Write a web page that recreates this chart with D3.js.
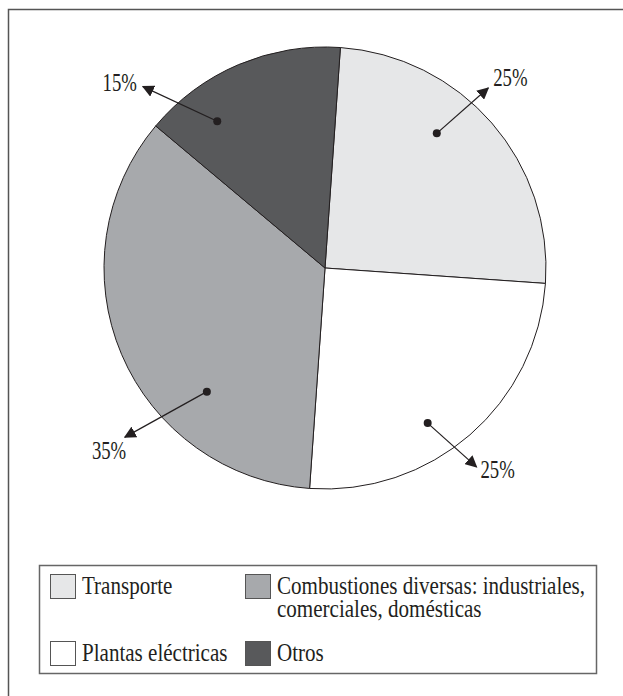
<!DOCTYPE html>
<html>
<head>
<meta charset="utf-8">
<script src="https://cdn.jsdelivr.net/npm/d3@7"></script>
<style>
  body { margin: 0; background: #fff; }
  text { font-family: "Liberation Serif", "DejaVu Serif", serif; fill: #231f20; }
</style>
</head>
<body>
<div id="chart"></div>
<script>
// datos del gráfico
var categories = ["Transporte", "Plantas eléctricas", "Combustiones diversas: industriales, comerciales, domésticas", "Otros"];
var values = [25, 25, 35, 15];
var colors = ["#e6e7e8", "#ffffff", "#a7a9ac", "#58595b"];
var pctLabels = ["25%", "25%", "35%", "15%"];

// leyenda: orden y lineas de texto
var legendOrder = [0, 2, 1, 3];
var legendLines = [["Transporte"], ["Plantas eléctricas"], ["Combustiones diversas: industriales,", "comerciales, domésticas"], ["Otros"]];

var width = 623, height = 696;
var cx = 325, cy = 268, radius = 221;
var deg = Math.PI / 180;

// posicion de los puntos y flechas (angulo, radio)
var callout = [
  {dot: [39.7, 175], tip: [42.2, 243], dx: 5, dy: -2, anchor: "start"},
  {dot: [146.5, 186], tip: [142.7, 250], dx: 4, dy: 11, anchor: "start"},
  {dot: [223.7, 171], tip: [229.8, 262], dx: -33, dy: 22, anchor: "start"},
  {dot: [323.7, 182], tip: [314.9, 257], dx: -6, dy: 4, anchor: "end"}
];

var svg = d3.select("#chart").append("svg")
    .attr("width", width)
    .attr("height", height);

// marco exterior
svg.append("rect")
    .attr("x", 8.5).attr("y", 9.5)
    .attr("width", width + 20).attr("height", height + 20)
    .attr("fill", "none")
    .attr("stroke", "#555")
    .attr("stroke-width", 1.5);

svg.append("defs").append("marker")
    .attr("id", "arrow")
    .attr("viewBox", "0 0 10 10")
    .attr("refX", 9).attr("refY", 5)
    .attr("markerWidth", 12).attr("markerHeight", 12)
    .attr("markerUnits", "userSpaceOnUse")
    .attr("orient", "auto")
  .append("path")
    .attr("d", "M0,0 L10,5 L0,10 Z")
    .attr("fill", "#231f20");

var pie = d3.pie()
    .sort(null)
    .startAngle(4 * deg)
    .endAngle(364 * deg);

var arc = d3.arc().innerRadius(0).outerRadius(radius);

var g = svg.append("g")
    .attr("transform", "translate(" + cx + "," + cy + ")");

g.selectAll(".slice")
    .data(pie(values))
  .enter().append("path")
    .attr("class", "slice")
    .attr("d", arc)
    .attr("fill", function(d, i) { return colors[i]; })
    .attr("stroke", "#231f20")
    .attr("stroke-width", 1);

// flechas con punto
callout.forEach(function(c, i) {
  var p0 = d3.pointRadial(c.dot[0] * deg, c.dot[1]);
  var p1 = d3.pointRadial(c.tip[0] * deg, c.tip[1]);
  g.append("line")
      .attr("x1", p0[0]).attr("y1", p0[1])
      .attr("x2", p1[0]).attr("y2", p1[1])
      .attr("stroke", "#231f20")
      .attr("stroke-width", 1.2)
      .attr("marker-end", "url(#arrow)");
  g.append("circle")
      .attr("cx", p0[0]).attr("cy", p0[1])
      .attr("r", 4)
      .attr("fill", "#231f20");
  g.append("text")
      .attr("transform", "translate(" + (p1[0] + c.dx) + "," + (p1[1] + c.dy) + ") scale(0.75,1)")
      .attr("text-anchor", c.anchor)
      .style("font-size", "25px")
      .text(pctLabels[i]);
});

// leyenda
svg.append("rect")
    .attr("x", 39.5).attr("y", 565.5)
    .attr("width", 557).attr("height", 108)
    .attr("fill", "none")
    .attr("stroke", "#666")
    .attr("stroke-width", 1.5);

var legendPos = [
  {x: 50, y: 574},
  {x: 245, y: 574},
  {x: 50, y: 641},
  {x: 245, y: 641}
];

legendOrder.forEach(function(idx, k) {
  var p = legendPos[k];
  svg.append("rect")
      .attr("x", p.x + 0.5).attr("y", p.y + 0.5)
      .attr("width", 25).attr("height", 24)
      .attr("fill", colors[idx])
      .attr("stroke", "#555")
      .attr("stroke-width", 1);
  var t = svg.append("text")
      .attr("transform", "translate(" + (p.x + 32) + "," + (p.y + 20) + ") scale(0.81,1)")
      .style("font-size", "26px");
  legendLines[idx].forEach(function(line, j) {
    t.append("tspan")
        .attr("x", 0)
        .attr("y", j * 23)
        .text(line);
  });
});
</script>
</body>
</html>
